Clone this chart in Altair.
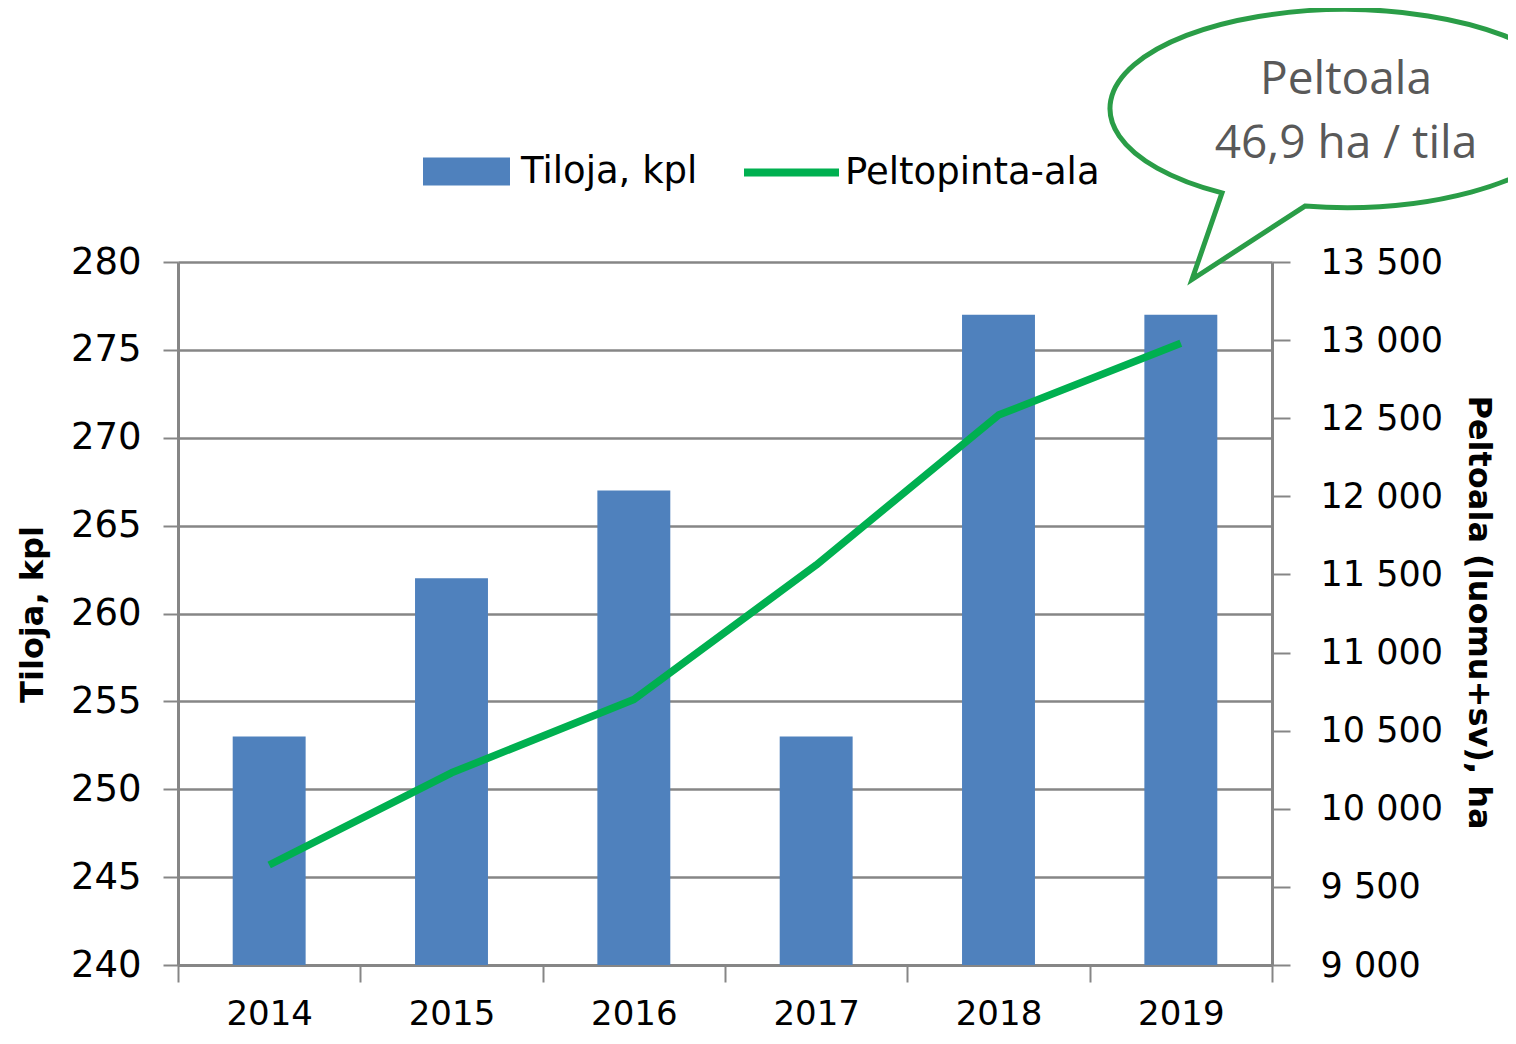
import altair as alt
import pandas as pd

years = ["2014", "2015", "2016", "2017", "2018", "2019"]
tiloja = [253, 262, 267, 253, 277, 277]
peltoala = [9640, 10230, 10700, 11560, 12520, 12980]
left_ticks = [240, 245, 250, 255, 260, 265, 270, 275, 280]
right_ticks = [9000, 9500, 10000, 10500, 11000, 11500, 12000, 12500, 13000, 13500]
bar_series = "Tiloja, kpl"
line_series = "Peltopinta-ala"
callout_lines = ["Peltoala", "46,9 ha / tila"]

df = pd.DataFrame({
    "Vuosi": years,
    "Tiloja": tiloja,
    "Peltoala": peltoala,
    "s1": [bar_series] * len(years),
    "s2": [line_series] * len(years),
})

FONT = "DejaVu Sans"
GRAY = "#868686"
BLUE = "#4F81BD"
GREEN = "#00B050"
BUBBLE = "#2A9D47"

W, H = 1094, 703
STEP = W / 6.0
HALF_GAP = 0.3 * STEP

x_scale = alt.Scale(paddingInner=0.6, paddingOuter=0.3)

x_main = alt.X(
    "Vuosi:N", sort=years, scale=x_scale,
    axis=alt.Axis(
        orient="bottom", title=None, labelAngle=0, bandPosition=0,
        tickOffset=-HALF_GAP, labelOffset=HALF_GAP,
        labelFont=FONT, labelFontSize=34, labelColor="black", labelPadding=15,
        tickColor=GRAY, tickWidth=2, tickSize=17,
        domainColor=GRAY, domainWidth=3, grid=False,
    ),
)

x_end = alt.X(
    "Vuosi:N", sort=years,
    axis=alt.Axis(
        orient="bottom", title=None, values=[years[-1]], bandPosition=1, tickOffset=HALF_GAP,
        labels=False, domain=False, grid=False,
        tickColor=GRAY, tickWidth=2, tickSize=17,
    ),
)

bars = alt.Chart(df).mark_bar().encode(
    x=x_main,
    y=alt.Y(
        "Tiloja:Q",
        scale=alt.Scale(domain=[240, 280], zero=False, nice=False),
        axis=alt.Axis(
            values=left_ticks, title="Tiloja, kpl",
            titleFont=FONT, titleFontSize=32, titleFontWeight="bold", titleColor="black",
            titleAngle=-90, titleX=-146, titleY=352, titleAlign="center", titleBaseline="middle",
            labelFont=FONT, labelFontSize=37, labelColor="black", labelPadding=22,
            tickSize=15, tickColor=GRAY, tickWidth=2,
            domainColor=GRAY, domainWidth=3,
            grid=True, gridColor=GRAY, gridWidth=2.5,
        ),
    ),
    y2=alt.datum(240),
    color=alt.Color(
        "s1:N",
        scale=alt.Scale(domain=[bar_series], range=[BLUE]),
        legend=alt.Legend(
            title=None, orient="none", legendX=245, legendY=-134,
            symbolType="M-1,-0.32H1V0.32H-1Z", symbolSize=7569, symbolStrokeWidth=0,
            labelFont=FONT, labelFontSize=37, labelColor="black", labelOffset=11,
            labelLimit=500, padding=0,
        ),
    ),
)

line = alt.Chart(df).mark_line(strokeWidth=7.5, interpolate="linear", strokeJoin="round").encode(
    x=x_end,
    y=alt.Y(
        "Peltoala:Q",
        scale=alt.Scale(domain=[9000, 13500], zero=False, nice=False),
        axis=alt.Axis(
            orient="right", values=right_ticks, title="Peltoala (luomu+sv), ha",
            labelExpr="replace(format(datum.value, ','), ',', ' ')",
            titleFont=FONT, titleFontSize=32, titleFontWeight="bold", titleColor="black",
            titleAngle=90, titleX=206, titleY=350, titleAlign="center", titleBaseline="middle",
            labelFont=FONT, labelFontSize=35, labelColor="black", labelPadding=30,
            tickSize=18, tickColor=GRAY, tickWidth=2,
            domainColor=GRAY, domainWidth=3, grid=False,
        ),
    ),
    stroke=alt.Stroke(
        "s2:N",
        scale=alt.Scale(domain=[line_series], range=[GREEN]),
        legend=alt.Legend(
            title=None, orient="none", legendX=562, legendY=-141,
            symbolType="stroke", symbolSize=9025, symbolStrokeWidth=8,
            labelFont=FONT, labelFontSize=37, labelColor="black", labelOffset=2,
            labelLimit=500, padding=0,
        ),
    ),
)

BUBBLE_PATH = "M-123,84.4L-153,171L-40,97.6A235,99,0,1,0,-123,84.4Z"
one = alt.Data(values=[{"k": 1}])

bubble = alt.Chart(one).mark_point(
    shape=BUBBLE_PATH, size=4, filled=True, fill="white", fillOpacity=1,
    stroke=BUBBLE, strokeWidth=5, opacity=1,
).encode(x=alt.value(1167), y=alt.value(-153.5))

txt1 = alt.Chart(one).mark_text(
    text=callout_lines[0], font="Open Sans", fontSize=46, color="#595959",
    align="center", baseline="alphabetic",
).encode(x=alt.value(1168), y=alt.value(-168))

txt2 = alt.Chart(one).mark_text(
    text=callout_lines[1], font="Open Sans", fontSize=46, color="#595959",
    align="center", baseline="alphabetic",
).encode(x=alt.value(1168), y=alt.value(-104))

chart = alt.layer(bars, line, bubble, txt1, txt2).resolve_scale(
    y="independent"
).resolve_axis(
    x="independent"
).properties(
    width=W, height=H,
    autosize=alt.AutoSizeParams(type="none"),
    padding={"left": 170, "top": 254, "right": 236, "bottom": 71},
).configure_view(stroke=None)

chart.save("out.html", embed_options={"renderer": "svg", "actions": False})
